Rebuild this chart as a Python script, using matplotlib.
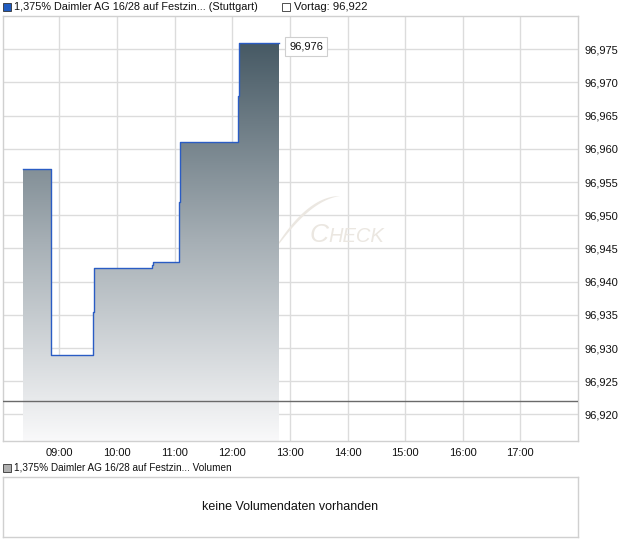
import matplotlib
matplotlib.use("Agg")
import matplotlib.pyplot as plt
import numpy as np
from matplotlib.patches import Rectangle, Polygon
from matplotlib.colors import LinearSegmentedColormap
from matplotlib.ticker import FuncFormatter, FixedLocator

# ---- data ----
times = ["08:22", "08:51", "09:35", "09:36", "10:36", "10:37", "11:05", "11:06", "12:06", "12:07", "12:49"]
values = [96.957, 96.929, 96.9355, 96.942, 96.9425, 96.943, 96.952, 96.961, 96.968, 96.976, 96.976]
prev_close = 96.922
last_price_label = "96,976"
x_tick_labels = ["09:00", "10:00", "11:00", "12:00", "13:00", "14:00", "15:00", "16:00", "17:00"]
y_ticks = [96.920, 96.925, 96.930, 96.935, 96.940, 96.945, 96.950, 96.955, 96.960, 96.965, 96.970, 96.975]
title_main = "1,375% Daimler AG 16/28 auf Festzin... (Stuttgart)"
title_prev = "Vortag: 96,922"
title_vol = "1,375% Daimler AG 16/28 auf Festzin... Volumen"
no_vol_text = "keine Volumendaten vorhanden"


def to_h(s):
    h, m = s.split(":")
    return int(h) + int(m) / 60.0


x = np.array([to_h(t) for t in times])
y = np.array(values)
xt = [to_h(t) for t in x_tick_labels]

plt.rcParams['font.family'] = ['Liberation Sans', 'DejaVu Sans']
W, H = 620, 546
fig = plt.figure(figsize=(W / 100, H / 100), dpi=100)


def fx(px):
    return px / W


def fy(py):
    return 1 - py / H


# main axes: x 3..578, y 16..441
ax = fig.add_axes([fx(3), fy(441), (578 - 3) / W, (441 - 16) / H])
xmin, xmax = 8.02, 18.0
ymin, ymax = 96.916, 96.980

# gradient fill under step line
xs = np.repeat(x, 2)[1:]
ys = np.repeat(y, 2)[:-1]
poly_pts = list(zip(xs, ys)) + [(x[-1], ymin), (x[0], ymin)]
poly = Polygon(poly_pts, closed=True, facecolor='none', edgecolor='none')
ax.add_patch(poly)
cmap = LinearSegmentedColormap.from_list("g", ["#f9f9fa", "#a6afb5", "#465964"])
grad = np.linspace(0, 1, 256).reshape(-1, 1)
im = ax.imshow(grad, extent=[x[0], x[-1], ymin, y.max()], origin='lower', aspect='auto',
               cmap=cmap, zorder=2, interpolation='bilinear')
im.set_clip_path(poly)

ax.plot(x, y, drawstyle='steps-post', color='#2a5cc4', lw=1.0, zorder=4)
ax.axhline(prev_close, color='#6a6a6a', lw=1.0, zorder=3)

ax.set_xlim(xmin, xmax)
ax.set_ylim(ymin, ymax)

# grid & ticks
ax.xaxis.set_major_locator(FixedLocator(xt))
ax.set_xticklabels(x_tick_labels)
ax.yaxis.set_major_locator(FixedLocator(y_ticks))
ax.yaxis.set_major_formatter(FuncFormatter(lambda v, p: f"{v:.3f}".replace(".", ",")))
ax.grid(True, color='#dcdcdc', lw=1.0, zorder=0)
ax.set_axisbelow(True)
ax.yaxis.tick_right()
ax.tick_params(axis='both', length=0, labelsize=8, colors='#111111')
ax.tick_params(axis='y', pad=4.5)
ax.tick_params(axis='x', pad=5)
for s in ax.spines.values():
    s.set_color('#d0d0d0')
    s.set_linewidth(1.0)

# price label
ax.annotate(last_price_label, xy=(x[-1], y[-1]), xytext=(7, -3), textcoords='offset points',
            ha='left', va='center', fontsize=8, color='#111111',
            bbox=dict(boxstyle='square,pad=0.4', fc='white', ec='#cfcfcf', lw=0.8), zorder=6)

# watermark
wm = '#ebe7e1'
ax.text(0.533, 0.468, "C", transform=ax.transAxes, fontsize=19, style='italic',
        color=wm, ha='left', va='baseline', zorder=1)
ax.text(0.566, 0.468, "HECK", transform=ax.transAxes, fontsize=14.5, style='italic',
        color=wm, ha='left', va='baseline', zorder=1)
t = np.linspace(0, 1, 40)
sx0, sy0 = 279, 242
sx1, sy1 = 340, 196
cx = sx0 + (sx1 - sx0) * t
cyo = sy0 + (sy1 - sy0) * (1 - (1 - t) ** 2)
cyi = cyo + 9 * (1 - t) * np.sqrt(t + 0.05)
pts = [(fx(a), fy(b)) for a, b in zip(cx, cyo)] + [(fx(a), fy(b)) for a, b in zip(cx[::-1], cyi[::-1])]
fig.patches.append(Polygon(pts, closed=True, transform=fig.transFigure, fc=wm, ec='none',
                           zorder=1.5))

# top legend
fig.patches.append(Rectangle((fx(3), fy(11)), 8 / W, 8 / H, transform=fig.transFigure,
                             fc='#1f5bc0', ec='#333333', lw=0.6))
fig.text(fx(14), fy(7), title_main, fontsize=7.8, va='center', ha='left', color='#111111')
fig.patches.append(Rectangle((fx(282), fy(11)), 8 / W, 8 / H, transform=fig.transFigure,
                             fc='white', ec='#333333', lw=0.6))
fig.text(fx(294), fy(7), title_prev, fontsize=8.1, va='center', ha='left', color='#111111')

# volume legend
fig.patches.append(Rectangle((fx(3), fy(472)), 8 / W, 8 / H, transform=fig.transFigure,
                             fc='#b0b0b0', ec='#333333', lw=0.6))
fig.text(fx(14), fy(468), title_vol, fontsize=7.2, va='center', ha='left', color='#111111')

# volume panel
ax2 = fig.add_axes([fx(3), fy(537), (578 - 3) / W, (537 - 477) / H])
ax2.set_xticks([])
ax2.set_yticks([])
for s in ax2.spines.values():
    s.set_color('#d0d0d0')
    s.set_linewidth(1.0)
ax2.text(0.5, 0.5, no_vol_text, transform=ax2.transAxes, ha='center', va='center',
         fontsize=9, color='#111111')

fig.savefig("out.png", dpi=100)
